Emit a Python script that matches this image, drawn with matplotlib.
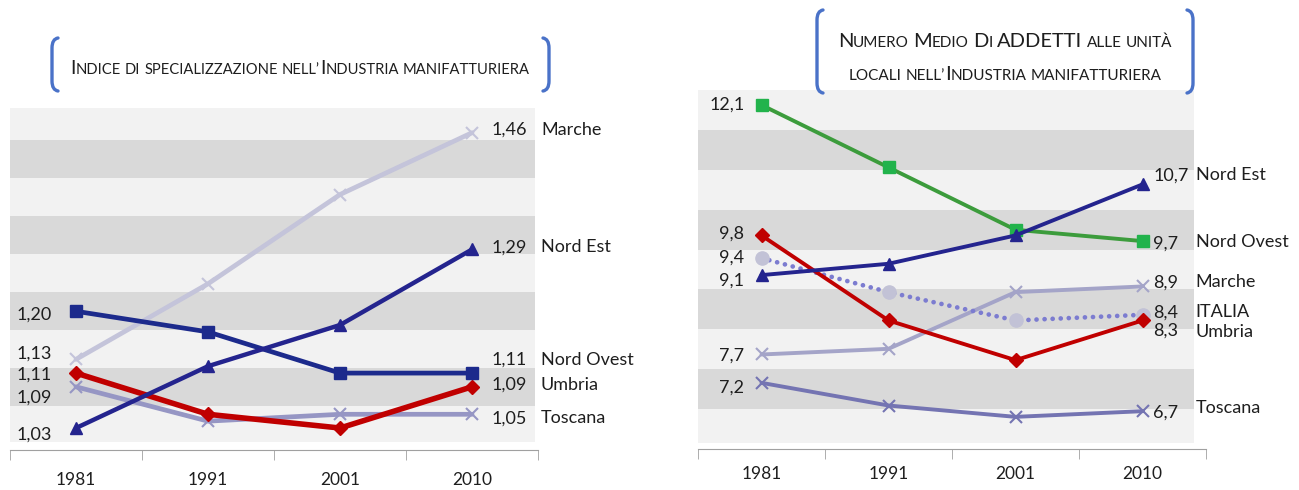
import itertools
import numpy as np
import matplotlib
matplotlib.use("Agg")
import matplotlib.pyplot as plt
from matplotlib.path import Path
from matplotlib.patches import PathPatch

plt.rcParams['font.family'] = ['Lato', 'DejaVu Sans']

W, H = 1299, 490

years = ["1981", "1991", "2001", "2010"]

# indice di specializzazione nell'industria manifatturiera
spec_marche = [1.13, 1.24, 1.37, 1.46]
spec_nord_est = [1.03, 1.12, 1.18, 1.29]
spec_nord_ovest = [1.20, 1.17, 1.11, 1.11]
spec_umbria = [1.11, 1.05, 1.03, 1.09]
spec_toscana = [1.09, 1.04, 1.05, 1.05]

# numero medio di addetti alle unita' locali
add_nord_ovest = [12.1, 11.0, 9.9, 9.7]
add_nord_est = [9.1, 9.3, 9.8, 10.7]
add_umbria = [9.8, 8.3, 7.6, 8.3]
add_italia = [9.4, 8.8, 8.3, 8.4]
add_marche = [7.7, 7.8, 8.8, 8.9]
add_toscana = [7.2, 6.8, 6.6, 6.7]

LIGHT, DARK = '#f2f2f2', '#d9d9d9'
TXT = '#1e1e1e'
BLUE_BR = '#4a72c8'


def fx(x):
    return x / W


def fy(y):
    return 1 - y / H


fig = plt.figure(figsize=(W / 100, H / 100), dpi=100)
fig.patch.set_facecolor('white')

ax1 = fig.add_axes([fx(10), fy(450), (538 - 10) / W, (450 - 108) / H])
ax2 = fig.add_axes([fx(698), fy(449), (1206 - 698) / W, (449 - 90) / H])


def setup(ax, ylim, edges, xmax, pad):
    ax.set_xlim(-0.5, 3.5)
    ax.set_ylim(*ylim)
    ax.set_facecolor('none')
    for i in range(len(edges) - 1):
        ax.axhspan(edges[i], edges[i + 1], xmin=0, xmax=xmax,
                   color=LIGHT if i % 2 == 0 else DARK, lw=0, zorder=0)
    for s in ['left', 'right', 'top']:
        ax.spines[s].set_visible(False)
    ax.spines['bottom'].set_color('#a0a0a0')
    ax.set_yticks([])
    ax.set_xticks(range(4), years)
    ax.set_xticks(np.arange(-0.5, 4, 1), minor=True)
    ax.tick_params(axis='x', which='major', length=0, pad=pad,
                   labelsize=12.5, labelcolor=TXT)
    ax.tick_params(axis='x', which='minor', length=7, color='#a0a0a0')


edges1 = [1.01] + list(1.062 + 0.0553 * np.arange(9))
setup(ax1, (0.998, 1.496), edges1, 0.994, 15.5)
edges2 = [6.14] + list(6.74 + 0.7025 * np.arange(9))
setup(ax2, (6.033, 12.365), edges2, 0.976, 12.5)

x = np.arange(4)


def series(ax, name, vals, color, marker, ms, lw, fmt, dys, dxs,
           mfc=None, ls='-', mew=1.0):
    ax.plot(x, vals, color=color, lw=lw, ls=ls, marker=marker, ms=ms,
            mfc=mfc or color, mec=mfc or color, mew=mew, zorder=3,
            dash_capstyle='round', solid_capstyle='round')
    lab = lambda v: fmt.format(v).replace('.', ',')
    ax.annotate(lab(vals[0]), (0, vals[0]), xytext=(dxs[0], -dys[0]),
                textcoords='offset pixels', ha='right', va='center',
                fontsize=13, color=TXT)
    ax.annotate(lab(vals[-1]), (3, vals[-1]), xytext=(dxs[1], -dys[1]),
                textcoords='offset pixels', ha='left', va='center',
                fontsize=13, color=TXT)
    ax.annotate(name, (3, vals[-1]), xytext=(dxs[2], -dys[2]),
                textcoords='offset pixels', ha='left', va='center',
                fontsize=13, color=TXT, annotation_clip=False)


f2 = '{:.2f}'
dx1 = (-24, 20, 69)
series(ax1, 'Marche', spec_marche, '#c4c4da', 'x', 8, 3.4, f2, (-6, -3, -3), dx1, mew=1.5)
series(ax1, 'Toscana', spec_toscana, '#9696c4', 'x', 8, 3.4, f2, (11, 4, 4), dx1, mew=1.5)
series(ax1, 'Umbria', spec_umbria, '#c00000', 'D', 7, 4.0, f2, (2, -2, -2), dx1)
series(ax1, 'Nord Ovest', spec_nord_ovest, '#1c2a8c', 's', 8, 3.4, f2, (3, -13, -13), dx1)
series(ax1, 'Nord Est', spec_nord_est, '#24248e', '^', 8, 3.2, f2, (7, -2, -2), dx1)

f1 = '{:.1f}'
dx2 = (-17, 11, 53)
series(ax2, 'Toscana', add_toscana, '#7474b2', 'x', 8, 2.8, f1, (5, 1, -3), dx2, mew=1.5)
series(ax2, 'Marche', add_marche, '#a4a4c8', 'x', 8, 2.8, f1, (1, -4, -4), dx2, mew=1.5)
series(ax2, 'ITALIA', add_italia, '#7c7cd0', 'o', 9.5, 3.4, f1, (0, -2, -3), dx2,
       mfc='#c2c2d6', ls=(0, (0.01, 1.7)))
series(ax2, 'Umbria', add_umbria, '#c00000', 'D', 7, 2.8, f1, (-2, 10, 12), dx2)
series(ax2, 'Nord Ovest', add_nord_ovest, '#3c9c3c', 's', 8, 2.8, f1, (0, 3, 1), dx2,
       mfc='#22b34c')
series(ax2, 'Nord Est', add_nord_est, '#24248e', '^', 8, 2.8, f1, (6, -9, -9), dx2)


def bracket(x0, y0, y1, side):
    h = 6 * side
    pts = [(x0 + h, y0), (x0, y0 + 1), (x0, y0 + 10), (x0, y1 - 10),
           (x0, y1 - 1), (x0 + h, y1)]
    codes = [Path.MOVETO, Path.CURVE3, Path.CURVE3, Path.LINETO,
             Path.CURVE3, Path.CURVE3]
    p = Path([(fx(a), fy(b)) for a, b in pts], codes)
    fig.add_artist(PathPatch(p, fc='none', ec=BLUE_BR, lw=2.4,
                             transform=fig.transFigure, capstyle='round'))


bracket(52, 38, 91, 1)
bracket(549, 38, 91, -1)
bracket(817, 10, 93, 1)
bracket(1193, 10, 93, -1)


def smallcaps(text, cx, y, big, small):
    r = fig.canvas.get_renderer()
    gap = small * 100 / 72 * 0.28
    pieces = []
    cur = 0.0
    for wi, word in enumerate(text.split(' ')):
        if wi:
            cur += gap
        for is_big, grp in itertools.groupby(word, key=lambda c: c.isupper()):
            s = ''.join(grp).upper()
            t = fig.text(0, fy(y), s, fontsize=big if is_big else small,
                         va='baseline', ha='left', color=TXT)
            pieces.append((t, cur))
            cur += t.get_window_extent(r).width
    x0 = cx - cur / 2
    for t, off in pieces:
        t.set_x(fx(x0 + off))


smallcaps('Indice di specializzazione nell\u2019Industria manifatturiera', 300, 74, 14, 10.6)
smallcaps('Numero Medio Di ADDETTI alle unit\u00e0', 1005, 47, 14.5, 11)
smallcaps('locali nell\u2019Industria manifatturiera', 1005, 80, 14.5, 11)

fig.savefig('out.png', dpi=100)
